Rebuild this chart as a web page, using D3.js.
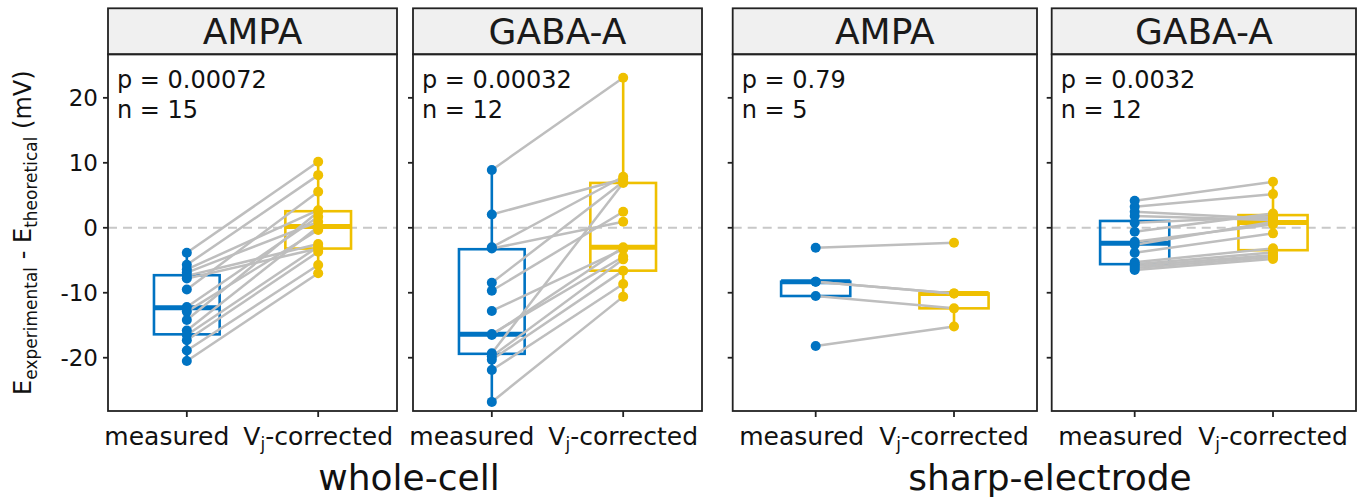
<!DOCTYPE html>
<html>
<head>
<meta charset="utf-8">
<script src="https://cdn.jsdelivr.net/npm/d3@7"></script>
<style>
  body { margin: 0; background: #fff; }
  svg { display: block; font-family: "DejaVu Sans", sans-serif; }
</style>
</head>
<body>
<div id="chart"></div>
<script>
// reversal potential offsets, paired measured vs Vj-corrected (mV)
var receptors = ["AMPA", "GABA-A", "AMPA", "GABA-A"];
var recordings = ["whole-cell", "sharp-electrode"];
var pValues = ["0.00072", "0.00032", "0.79", "0.0032"];
var nCells = [15, 12, 5, 12];
var conditions = ["measured", "Vj-corrected"];
var yTicks = [-20, -10, 0, 10, 20];

// paired values: measured[i][k] <-> corrected[i][k]
var measured = [
  [-3.85, -5.7, -6.4, -6.9, -7.4, -7.8, -9.5, -12.2, -12.9, -14.2, -15.8, -16.5, -17.3, -18.9, -20.5],
  [8.9, 2.05, -3.0, -3.2, -8.45, -9.7, -12.8, -16.35, -16.5, -19.3, -19.8, -20.3, -21.9, -26.8],
  [-3.07, -8.3, -8.3, -10.5, -18.2],
  [4.15, 3.23, 2.46, 1.8, 0.77, -0.6, -2.15, -2.6, -3.85, -5.3, -5.6, -5.9, -6.2, -6.5]
];
var corrected = [
  [10.15, 8.1, 2.7, 0.92, -2.5, -3.2, 5.55, 1.7, -0.35, 2.46, 0.15, -2.9, -3.7, -5.74, -7.0],
  [23.1, 7.5, 7.85, 0.92, 7.08, 2.46, -3.3, -4.46, -3.0, 6.9, -4.86, -6.6, -8.66, -10.6],
  [-2.3, -10.1, -10.1, -12.4, -15.2],
  [7.08, 5.18, 1.4, 1.18, 1.7, 2.2, 0.52, 0.9, -0.86, -3.17, -3.8, -4.2, -4.5, -4.8]
];

// box stats: [lower whisker, q1, median, q3, upper whisker]
var boxMeasured = [
  [-20.5, -16.4, -12.3, -7.3, -3.85],
  [-26.8, -19.4, -16.4, -3.3, 8.9],
  [-10.5, -10.5, -8.3, -8.3, -8.3],
  [-6.5, -5.6, -2.4, 1.05, 4.15]
];
var boxCorrected = [
  [-7.0, -3.2, 0.2, 2.55, 10.15],
  [-10.6, -6.6, -3.0, 6.9, 23.1],
  [-15.2, -12.4, -10.1, -10.1, -10.1],
  [-4.8, -3.45, 0.8, 1.95, 7.08]
];

var colors = ["#0073C2", "#EFC000"];

var width = 1372, height = 500;
var plotTop = 54.3, plotBottom = 411, stripTop = 8.3;
var panelX = [[108, 397], [413, 702], [732.7, 1037], [1051.7, 1356]];
var measuredShift = [-20, -20, -14, -14];

var svg = d3.select("#chart").append("svg")
  .attr("width", width)
  .attr("height", height);

var y = d3.scaleLinear().domain([-28.2, 26.7]).range([plotBottom, plotTop]);

panelX.forEach(function(px, i) {
  var x = d3.scalePoint().domain(conditions).range(px).padding(0.6);
  var boxW = x.step() * 0.5;
  var g = svg.append("g");

  // strip
  g.append("rect")
    .attr("x", px[0]).attr("y", stripTop)
    .attr("width", px[1] - px[0]).attr("height", plotTop - stripTop)
    .attr("fill", "#F0F0F0").attr("stroke", "#222").attr("stroke-width", 1.8);
  g.append("text")
    .attr("x", (px[0] + px[1]) / 2).attr("y", (stripTop + plotTop) / 2 + 13)
    .attr("text-anchor", "middle")
    .attr("font-size", 36).attr("fill", "#1a1a1a")
    .text(receptors[i]);

  // zero reference
  g.append("line")
    .attr("x1", px[0]).attr("x2", px[1])
    .attr("y1", y(0)).attr("y2", y(0))
    .attr("stroke", "#C8C8C8").attr("stroke-width", 2)
    .attr("stroke-dasharray", "9,6");

  // boxes
  [boxMeasured[i], boxCorrected[i]].forEach(function(b, j) {
    var cx = x(conditions[j]);
    var bg = g.append("g").attr("stroke", colors[j]).attr("fill", "none");
    bg.append("line").attr("x1", cx).attr("x2", cx)
      .attr("y1", y(b[3])).attr("y2", y(b[4])).attr("stroke-width", 2.6);
    bg.append("line").attr("x1", cx).attr("x2", cx)
      .attr("y1", y(b[1])).attr("y2", y(b[0])).attr("stroke-width", 2.6);
    bg.append("rect")
      .attr("x", cx - boxW / 2).attr("width", boxW)
      .attr("y", y(b[3])).attr("height", y(b[1]) - y(b[3]))
      .attr("stroke-width", 2.6);
    bg.append("line")
      .attr("x1", cx - boxW / 2).attr("x2", cx + boxW / 2)
      .attr("y1", y(b[2])).attr("y2", y(b[2]))
      .attr("stroke-width", 5);
  });

  // paired lines
  g.selectAll(".pair")
    .data(d3.range(measured[i].length))
    .enter().append("line")
    .attr("x1", x(conditions[0])).attr("x2", x(conditions[1]))
    .attr("y1", function(k) { return y(measured[i][k]); })
    .attr("y2", function(k) { return y(corrected[i][k]); })
    .attr("stroke", "#BEBEBE").attr("stroke-width", 2.5);

  // points
  [measured[i], corrected[i]].forEach(function(vals, j) {
    g.selectAll(".pt" + j)
      .data(vals)
      .enter().append("circle")
      .attr("cx", x(conditions[j]))
      .attr("cy", function(d) { return y(d); })
      .attr("r", 5)
      .attr("fill", colors[j]);
  });

  // panel border
  g.append("rect")
    .attr("x", px[0]).attr("y", plotTop)
    .attr("width", px[1] - px[0]).attr("height", plotBottom - plotTop)
    .attr("fill", "none").attr("stroke", "#222").attr("stroke-width", 1.8);

  // stats text
  var st = g.append("text").attr("font-size", 24).attr("fill", "#111");
  st.append("tspan").attr("x", px[0] + 9).attr("y", 88).text("p = " + pValues[i]);
  st.append("tspan").attr("x", px[0] + 9).attr("y", 118).text("n = " + nCells[i]);

  // x axis
  var xa = g.append("g").attr("transform", "translate(0," + plotBottom + ")");
  conditions.forEach(function(c, j) {
    xa.append("line").attr("x1", x(c)).attr("x2", x(c))
      .attr("y1", 0).attr("y2", 6).attr("stroke", "#222").attr("stroke-width", 1.8);
    var t = xa.append("text").attr("x", x(c) + (j === 0 ? measuredShift[i] : 0)).attr("y", 34)
      .attr("text-anchor", "middle").attr("font-size", 25).attr("fill", "#111");
    if (c === "Vj-corrected") {
      t.append("tspan").text("V");
      t.append("tspan").attr("font-size", 17).attr("dy", 5).text("j");
      t.append("tspan").attr("dy", -5).text("-corrected");
    } else {
      t.text(c);
    }
  });

  // y ticks on every panel
  yTicks.forEach(function(v) {
    g.append("line").attr("x1", px[0] - 5).attr("x2", px[0])
      .attr("y1", y(v)).attr("y2", y(v))
      .attr("stroke", "#222").attr("stroke-width", 1.8);
  });
});

// y tick labels
svg.selectAll(".ylab")
  .data(yTicks)
  .enter().append("text")
  .attr("x", 98)
  .attr("y", function(d) { return y(d) + 8; })
  .attr("text-anchor", "end")
  .attr("font-size", 23).attr("fill", "#111")
  .text(function(d) { return d; });

// y axis title
var yt = svg.append("text")
  .attr("transform", "translate(31," + ((plotTop + plotBottom) / 2) + ") rotate(-90)")
  .attr("text-anchor", "middle")
  .attr("font-size", 24).attr("fill", "#111");
yt.append("tspan").text("E");
yt.append("tspan").attr("font-size", 17).attr("dy", 6).text("experimental");
yt.append("tspan").attr("dy", -6).text(" - E");
yt.append("tspan").attr("font-size", 17).attr("dy", 6).text("theoretical");
yt.append("tspan").attr("dy", -6).text(" (mV)");

// group titles
var groupCenters = [409, 1050];
svg.selectAll(".grp")
  .data(recordings)
  .enter().append("text")
  .attr("x", function(d, i) { return groupCenters[i]; })
  .attr("y", 490)
  .attr("text-anchor", "middle")
  .attr("font-size", 36).attr("fill", "#111")
  .text(function(d) { return d; });
</script>
</body>
</html>
